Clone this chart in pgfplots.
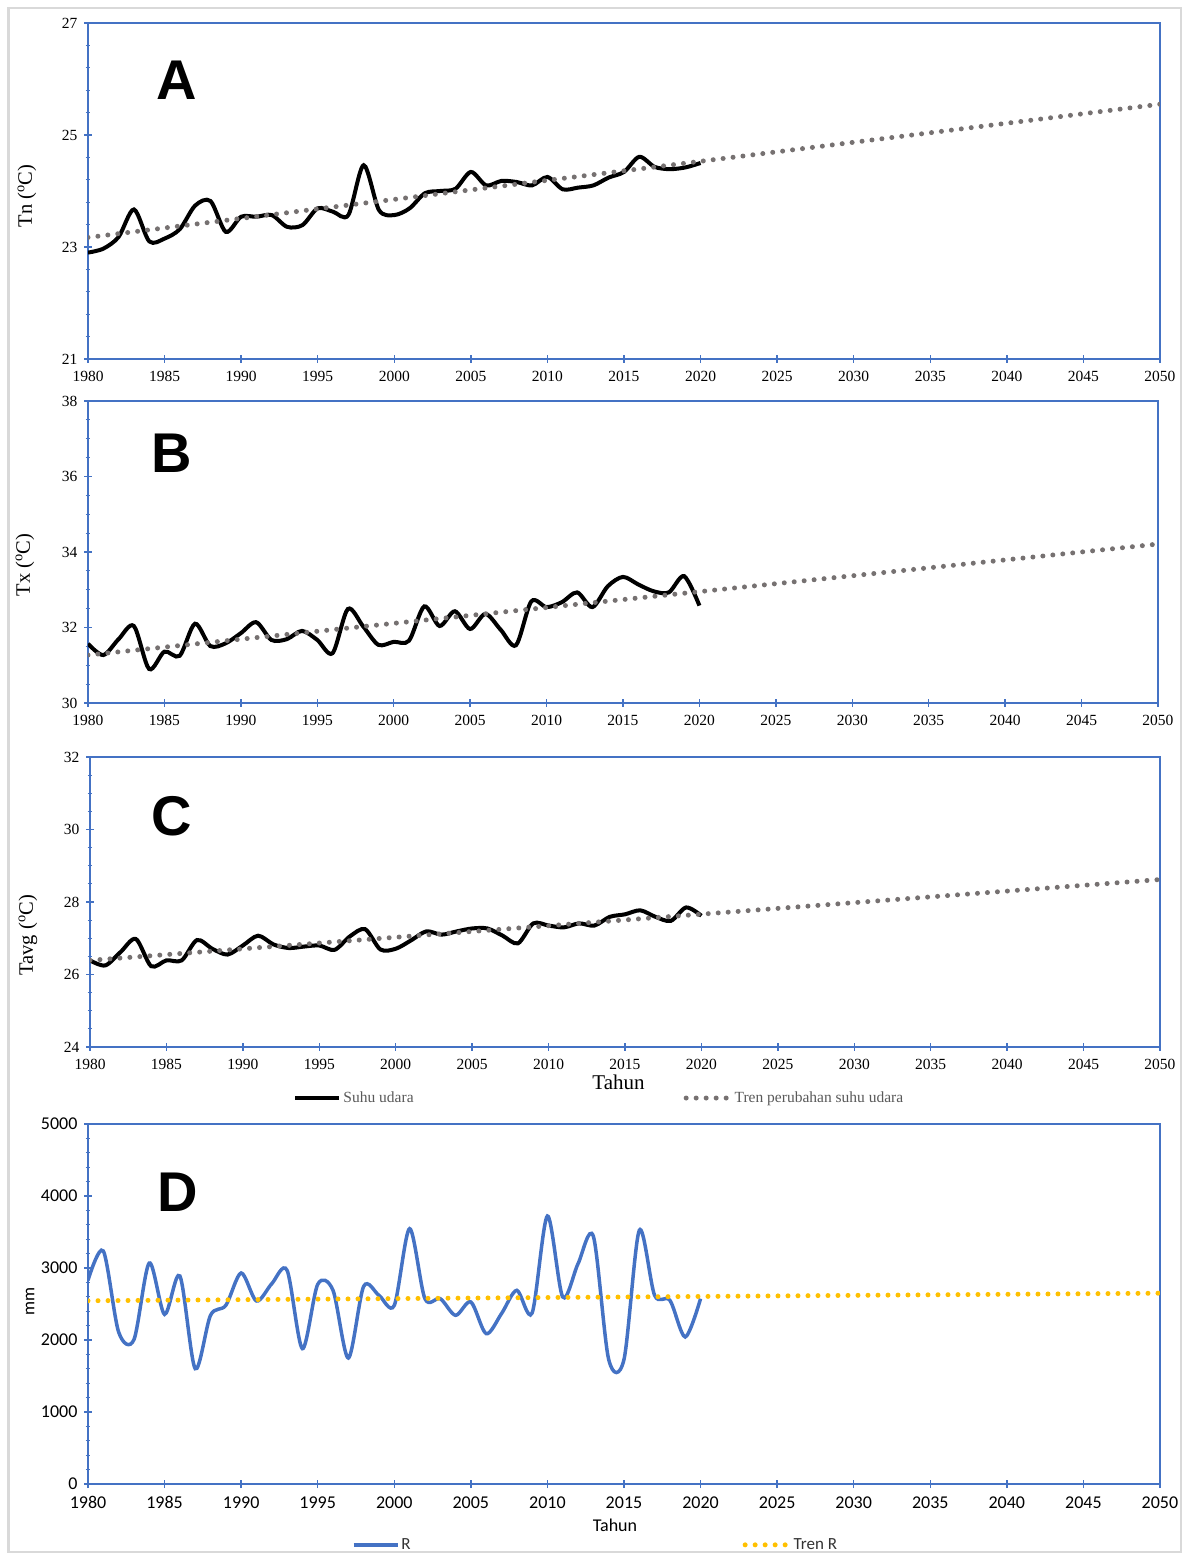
\documentclass[border=0pt]{standalone}
\usepackage{fontspec}
\setmainfont{Liberation Serif}
\newfontfamily\calibri{Carlito}
\newfontfamily\heavy{Liberation Sans}
\usepackage{pgfplots}
\usepackage{pgfplotstable}
\pgfplotsset{compat=1.18}

\definecolor{axblue}{HTML}{4472C4}
\definecolor{trendgray}{HTML}{767171}
\definecolor{trendyellow}{HTML}{FFC000}
\definecolor{legtext}{HTML}{595959}
\definecolor{framegray}{HTML}{D9D9D9}

% observed yearly values
\pgfplotstableread{
year tn    tx    tavg  r
1980 22.90 31.57 26.39 2829
1981 22.97 31.27 26.25 3236
1982 23.18 31.69 26.62 2111
1983 23.67 32.04 26.98 2005
1984 23.10 30.90 26.23 3069
1985 23.15 31.36 26.39 2356
1986 23.32 31.25 26.39 2889
1987 23.74 32.10 26.95 1602
1988 23.82 31.51 26.71 2343
1989 23.27 31.58 26.55 2481
1990 23.54 31.85 26.80 2931
1991 23.54 32.14 27.07 2542
1992 23.57 31.67 26.83 2782
1993 23.36 31.69 26.73 2968
1994 23.39 31.91 26.77 1880
1995 23.69 31.67 26.80 2773
1996 23.63 31.32 26.68 2690
1997 23.57 32.49 27.05 1750
1998 24.46 32.03 27.25 2745
1999 23.66 31.54 26.69 2620
2000 23.57 31.62 26.71 2481
2001 23.69 31.65 26.94 3546
2002 23.96 32.56 27.19 2574
2003 24.00 32.04 27.10 2574
2004 24.04 32.43 27.19 2343
2005 24.34 31.96 27.27 2528
2006 24.10 32.36 27.27 2088
2007 24.18 31.94 27.07 2366
2008 24.16 31.53 26.86 2690
2009 24.10 32.69 27.41 2375
2010 24.25 32.54 27.35 3722
2011 24.03 32.67 27.30 2597
2012 24.06 32.93 27.41 3060
2013 24.10 32.54 27.35 3440
2014 24.24 33.09 27.59 1730
2015 24.34 33.34 27.66 1730
2016 24.61 33.14 27.77 3523
2017 24.43 32.96 27.59 2620
2018 24.39 32.93 27.48 2551
2019 24.42 33.36 27.85 2042
2020 24.50 32.58 27.62 2574
}\obs

\pgfplotsset{
  panel/.style={
    scale only axis, anchor=south west,
    xmin=1980, xmax=2050, xtick={1980,1985,...,2050},
    xtick pos=bottom, ytick pos=left,
    axis line style={axblue, line width=1.8pt},
    major tick style={axblue, line width=1.5pt},
    minor tick style={axblue, line width=1.2pt},
    tick align=center, major tick length=8pt, minor tick length=5pt,
    /pgf/number format/1000 sep={},
    /pgf/number format/assume math mode=true,
    tick label style={font=\fontsize{15.5}{16}\selectfont},
    xticklabel style={yshift=-5pt},
    yticklabel style={xshift=-3pt},
    ylabel style={font=\fontsize{20.5}{22}\selectfont, anchor=center},
  },
  obsline/.style={black, line width=4pt, smooth},
  trend/.style={trendgray, line width=5pt, line cap=round, dash pattern=on 0pt off 10pt},
  legend image code/.code={\draw[#1] (0pt,0pt) -- (44pt,0pt);},
}

\newcommand{\panelletter}[3]{\node[font=\heavy\bfseries\fontsize{56}{60}\selectfont] at (axis description cs:#1,#2) {#3};}

\begin{document}
\begin{tikzpicture}[x=1pt,y=1pt]
\useasboundingbox (0,0) rectangle (1184,1556);
\draw[framegray, line width=2.5pt] (8.5,4) rectangle (1181,1548);

% A
\begin{axis}[panel, at={(88pt,1197pt)}, width=1072pt, height=336pt,
  ymin=21, ymax=27, ytick={21,23,25,27}, minor y tick num=4,
  ylabel={Tn (\textsuperscript{o}C)},
  ylabel style={at={(axis description cs:-0.057,0.485)}}]
\addplot[obsline] table[x=year, y=tn] {\obs};
\addplot[trend] coordinates {(1980,23.17) (2050,25.55)};
\panelletter{0.083}{0.83}{A}
\end{axis}

% B
\begin{axis}[panel, at={(88pt,853pt)}, width=1070pt, height=302pt,
  ymin=30, ymax=38, ytick={30,32,...,38}, minor y tick num=3,
  ylabel={Tx (\textsuperscript{o}C)},
  ylabel style={at={(axis description cs:-0.059,0.457)}}]
\addplot[obsline] table[x=year, y=tx] {\obs};
\addplot[trend] coordinates {(1980,31.27) (2050,34.21)};
\panelletter{0.0785}{0.828}{B}
\end{axis}

% C
\begin{axis}[panel, at={(90pt,509pt)}, width=1070pt, height=290pt,
  ymin=24, ymax=32, ytick={24,26,...,32}, minor y tick num=3,
  ylabel={Tavg (\textsuperscript{o}C)},
  ylabel style={at={(axis description cs:-0.058,0.386)}},
  xlabel={Tahun},
  xlabel style={at={(axis description cs:0.494,-0.121)}, anchor=center, font=\fontsize{21}{22}\selectfont},
  legend columns=2,
  legend style={at={(0.19,-0.176)}, anchor=west, draw=none, fill=none, inner sep=0pt,
    font=\fontsize{15.5}{16}\selectfont\color{legtext},
    /tikz/every even column/.append style={column sep=268pt}}]
\addplot[obsline] table[x=year, y=tavg] {\obs};
\addlegendentry{Suhu udara}
\addplot[trend] coordinates {(1980,26.39) (2050,28.62)};
\addlegendentry{Tren perubahan suhu udara}
\panelletter{0.0766}{0.797}{C}
\end{axis}

% D
\begin{axis}[panel, at={(88pt,72pt)}, width=1072pt, height=360pt,
  ymin=0, ymax=5000, ytick={0,1000,...,5000}, minor y tick num=4,
  tick label style={font=\calibri\fontsize{18}{19}\selectfont},
  ylabel={mm},
  ylabel style={at={(axis description cs:-0.054,0.506)}, font=\calibri\fontsize{17.5}{18}\selectfont},
  xlabel={Tahun},
  xlabel style={at={(axis description cs:0.4916,-0.114)}, anchor=center, font=\calibri\fontsize{18}{19}\selectfont},
  legend columns=2,
  legend style={at={(0.246,-0.169)}, anchor=west, draw=none, fill=none, inner sep=0pt,
    font=\calibri\fontsize{17}{18}\selectfont\color{black!80},
    /tikz/every even column/.append style={column sep=330pt}}]
\addplot[axblue, line width=3.5pt, smooth] table[x=year, y=r] {\obs};
\addlegendentry{R}
\addplot[trend, trendyellow] coordinates {(1980,2545) (2050,2650)};
\addlegendentry{Tren R}
\panelletter{0.084}{0.811}{D}
\end{axis}
\end{tikzpicture}
\end{document}
